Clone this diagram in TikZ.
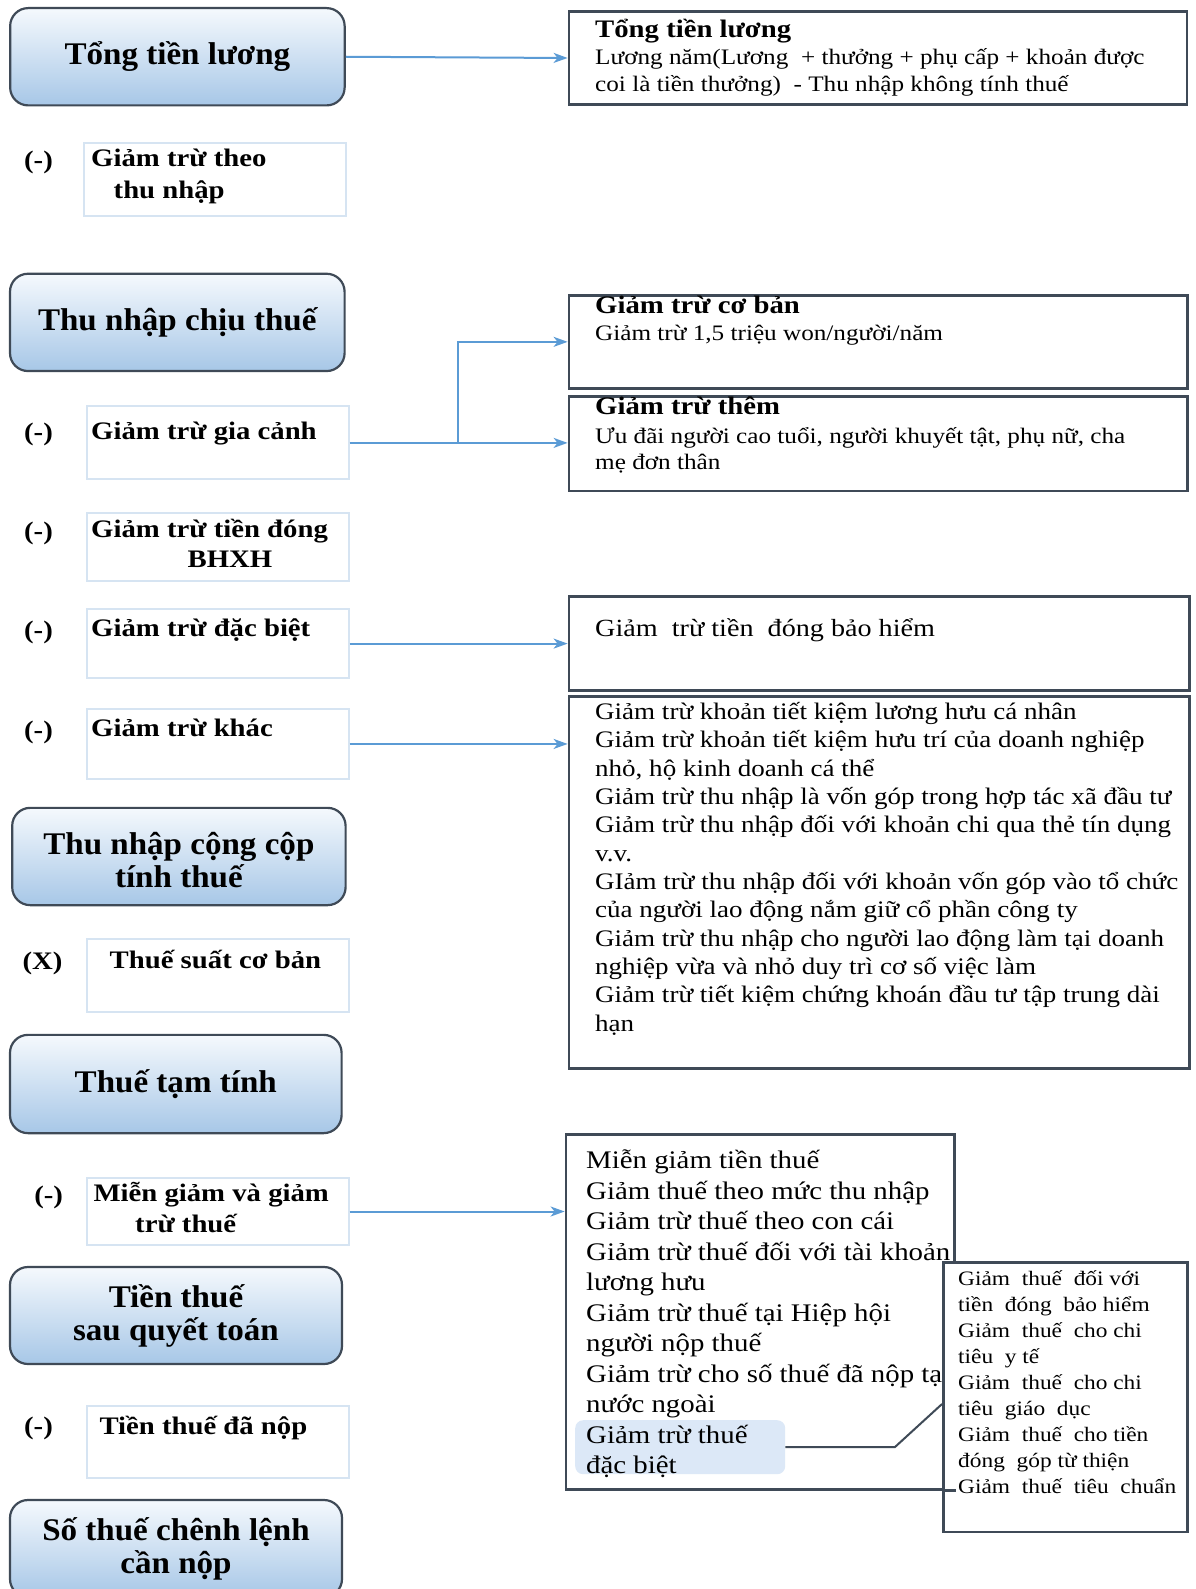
\documentclass[tikz,border=0pt]{standalone}
\usepackage{fontspec}
\setmainfont{Liberation Serif}
\newfontfamily\stfam{Liberation Serif}[FakeStretch=1.14]
\newfontfamily\btfam{Liberation Serif}[FakeStretch=1.05]
\usetikzlibrary{arrows.meta}
\definecolor{gtop}{HTML}{F5F9FD}
\definecolor{gbot}{HTML}{A7C7E7}
\definecolor{bgray}{HTML}{3F4A57}
\definecolor{sbline}{HTML}{D6E4F2}
\definecolor{arr}{HTML}{5B9BD5}
\definecolor{hlc}{HTML}{DCE8F7}
\newcommand\fBig{\btfam\bfseries\fontsize{31.5}{33}\selectfont}
\newcommand\fLbl{\stfam\bfseries\fontsize{25.2}{31}\selectfont}
\newcommand\fTtl{\stfam\bfseries\fontsize{25.2}{28}\selectfont}
\newcommand\fA{\stfam\fontsize{22.1}{26}\selectfont}
\newcommand\fB{\stfam\fontsize{23.7}{28.4}\selectfont}
\newcommand\fBH{\stfam\fontsize{24.7}{28}\selectfont}
\newcommand\fC{\stfam\fontsize{25.3}{30.5}\selectfont}
\newcommand\fD{\stfam\fontsize{20.5}{26}\selectfont}
\tikzset{
  bigbox/.style={draw=bgray, line width=2.2pt, rounded corners=18pt, top color=gtop, bottom color=gbot, font=\fBig, align=center, inner sep=0pt},
  rbox/.style={draw=bgray, line width=2.5pt, fill=white, inner sep=0pt, anchor=north west},
  sbox/.style={draw=sbline, line width=2pt, fill=white, inner sep=0pt, anchor=north west},
  conn/.style={draw=arr, line width=2pt, -{Stealth[length=14pt,width=10pt,inset=4pt]}},
  lnk/.style={draw=bgray, line width=2pt},
  txt/.style={anchor=base west, inner sep=0pt},
  ctxt/.style={anchor=base, inner sep=0pt},
}
\begin{document}
\begin{tikzpicture}[x=1pt,y=-1pt]
\fill[white] (0,0) rectangle (1195,1589);
\useasboundingbox (0,0) rectangle (1195,1589);

% ---- left big boxes
\node[bigbox, minimum width=334.5pt, minimum height=97.3pt] (n1) at (177.4,56.75) {Tổng tiền lương};
\node[bigbox, minimum width=334.6pt, minimum height=97.3pt] (n2) at (177.3,322.4) {Thu nhập chịu thuế};
\node[bigbox, minimum width=333.4pt, minimum height=97.3pt] (n3) at (178.9,856.5) {\rule{0pt}{30pt}Thu nhập cộng cộp\\tính thuế};
\node[bigbox, minimum width=331.6pt, minimum height=98.3pt] (n4) at (175.8,1084) {Thuế tạm tính};
\node[bigbox, minimum width=332pt, minimum height=97pt] (n5) at (176,1315.5) {Tiền thuế\\sau quyết toán};
\node[bigbox, minimum width=332pt, minimum height=97pt] (n6) at (176,1548.5) {Số thuế chênh lệnh\\cần nộp};

% ---- left small boxes
\node[sbox, minimum width=261.6pt, minimum height=73pt] (sb1) at (83,142) {};
\node[sbox, minimum width=261.7pt, minimum height=73pt] (sb2) at (86,405.4) {};
\node[sbox, minimum width=261.7pt, minimum height=67.9pt] (sb3) at (86,511.9) {};
\node[sbox, minimum width=261.7pt, minimum height=68.8pt] (sb4) at (86,608.2) {};
\node[sbox, minimum width=261.7pt, minimum height=70.9pt] (sb5) at (86,707.5) {};
\node[sbox, minimum width=261.7pt, minimum height=73pt] (sb6) at (86,937.6) {};
\node[sbox, minimum width=261.7pt, minimum height=67pt] (sb7) at (86,1177) {};
\node[sbox, minimum width=261.7pt, minimum height=72pt] (sb8) at (86,1405) {};

\node[ctxt, font=\fLbl] (m1) at (38.5,169) {(-)};
\node[txt, font=\fLbl] (s1a) at (91,167) {Giảm trừ theo};
\node[txt, font=\fLbl] (s1b) at (113.5,198.6) {thu nhập};
\node[ctxt, font=\fLbl] (m2) at (38.5,440.8) {(-)};
\node[txt, font=\fLbl] (s2) at (91,439.8) {Giảm trừ gia cảnh};
\node[ctxt, font=\fLbl] (m3) at (38.5,539) {(-)};
\node[txt, font=\fLbl] (s3a) at (91,537) {Giảm trừ tiền đóng};
\node[ctxt, font=\fLbl] (s3b) at (230,567.5) {BHXH};
\node[ctxt, font=\fLbl] (m4) at (38.5,638.5) {(-)};
\node[txt, font=\fLbl] (s4) at (91,636.5) {Giảm trừ đặc biệt};
\node[ctxt, font=\fLbl] (m5) at (38.5,738.8) {(-)};
\node[txt, font=\fLbl] (s5) at (91,736.8) {Giảm trừ khác};
\node[ctxt, font=\fLbl] (m6) at (42.6,969) {(X)};
\node[txt, font=\fLbl] (s6) at (109.5,968) {Thuế suất cơ bản};
\node[ctxt, font=\fLbl] (m7) at (48.7,1203) {(-)};
\node[txt, font=\fLbl] (s7a) at (93.3,1201) {Miễn giảm và giảm};
\node[txt, font=\fLbl] (s7b) at (135,1232.5) {trừ thuế};
\node[ctxt, font=\fLbl] (m8) at (38.5,1434) {(-)};
\node[txt, font=\fLbl] (s8) at (99.3,1434) {Tiền thuế đã nộp};

% ---- right boxes
\node[rbox, minimum width=618.3pt, minimum height=93.3pt] (r1) at (567.6,10.1) {};
\node[txt, font=\fTtl] (r1t) at (595,37.4) {Tổng tiền lương};
\node[txt, font=\fA] (r1a) at (595,65) {Lương năm(Lương \ + thưởng + phụ cấp + khoản được};
\node[txt, font=\fA] (r1b) at (595,91.4) {coi là tiền thưởng) \ - Thu nhập không tính thuế};

\node[rbox, minimum width=618.4pt, minimum height=93.2pt] (rCo) at (567.6,294) {};
\node[txt, font=\fTtl] (rCot) at (595,313) {Giảm trừ cơ bản};
\node[txt, font=\fA] (rCoa) at (595,340.8) {Giảm trừ 1,5 triệu won/người/năm};

\node[rbox, minimum width=618.4pt, minimum height=94.3pt] (rTh) at (567.6,395.3) {};
\node[txt, font=\fTtl] (rTht) at (595,414.5) {Giảm trừ thêm};
\node[txt, font=\fA] (rTha) at (595,443.2) {Ưu đãi người cao tuổi, người khuyết tật, phụ nữ, cha};
\node[txt, font=\fA] (rThb) at (595,469.5) {mẹ đơn thân};

\node[rbox, minimum width=620.4pt, minimum height=94.2pt] (rBH) at (567.6,595) {};
\node[txt, font=\fBH] (rBHt) at (595,636.5) {Giảm \ trừ tiền \ đóng bảo hiểm};

\node[rbox, minimum width=620.4pt, minimum height=372pt] (rL) at (567.6,695.3) {};
\foreach \t [count=\i from 0] in {
  {Giảm trừ khoản tiết kiệm lương hưu cá nhân},
  {Giảm trừ khoản tiết kiệm hưu trí của doanh nghiệp},
  {nhỏ, hộ kinh doanh cá thể},
  {Giảm trừ thu nhập là vốn góp trong hợp tác xã đầu tư},
  {Giảm trừ thu nhập đối với khoản chi qua thẻ tín dụng},
  {v.v.},
  {GIảm trừ thu nhập đối với khoản vốn góp vào tổ chức},
  {của người lao động nắm giữ cổ phần công ty},
  {Giảm trừ thu nhập cho người lao động làm tại doanh},
  {nghiệp vừa và nhỏ duy trì cơ số việc làm},
  {Giảm trừ tiết kiệm chứng khoán đầu tư tập trung dài},
  {hạn}}
  \node[txt, font=\fB] (L\i) at (595,719.3+28.35*\i) {\t};

\node[rbox, minimum width=388.4pt, minimum height=354.8pt] (rLow) at (564.6,1133.2) {};
\node[fill=hlc, rounded corners=8pt, minimum width=210pt, minimum height=54pt, inner sep=0pt, anchor=north west] (hl) at (575,1420) {};
\foreach \t [count=\i from 0] in {
  {Miễn giảm tiền thuế},
  {Giảm thuế theo mức thu nhập},
  {Giảm trừ thuế theo con cái},
  {Giảm trừ thuế đối với tài khoản},
  {lương hưu},
  {Giảm trừ thuế tại Hiệp hội},
  {người nộp thuế},
  {Giảm trừ cho số thuế đã nộp tại},
  {nước ngoài},
  {Giảm trừ thuế},
  {đặc biệt}}
  \node[txt, font=\fC] (W\i) at (586,1168.8+30.5*\i) {\t};

\node[rbox, minimum width=244pt, minimum height=269.6pt] (rIn) at (942,1261) {};
\draw[bgray, line width=2.5pt] (rIn.west |- rLow.south) -- (rLow.south east);
\foreach \t [count=\i from 0] in {
  {Giảm \ thuế \ đối với},
  {tiền \ đóng \ bảo hiểm},
  {Giảm \ thuế \ cho chi},
  {tiêu \ y tế},
  {Giảm \ thuế \ cho chi},
  {tiêu \ giáo \ dục},
  {Giảm \ thuế \ cho tiền},
  {đóng \ góp từ thiện},
  {Giảm \ thuế \ tiêu \ chuẩn}}
  \node[txt, font=\fD] (V\i) at (958,1285+26.1*\i) {\t};

% ---- connectors
\draw[conn] (n1.east) -- (r1.west);
\coordinate (br) at (458,441.9);
\draw[conn] (sb2.east) -- (sb2.east -| rTh.west);
\draw[conn] (br) |- (rCo.west);
\draw[conn] (sb4.east) -- (sb4.east -| rBH.west);
\draw[conn] (sb5.east) -- (sb5.east -| rL.west);
\draw[conn] (sb7.east) -- (sb7.east -| rLow.west);
\coordinate (cb) at (895,1447);
\coordinate (ce) at (942,1404);
\draw[lnk] (hl.east) -- (cb) -- (ce);
\end{tikzpicture}
\end{document}
